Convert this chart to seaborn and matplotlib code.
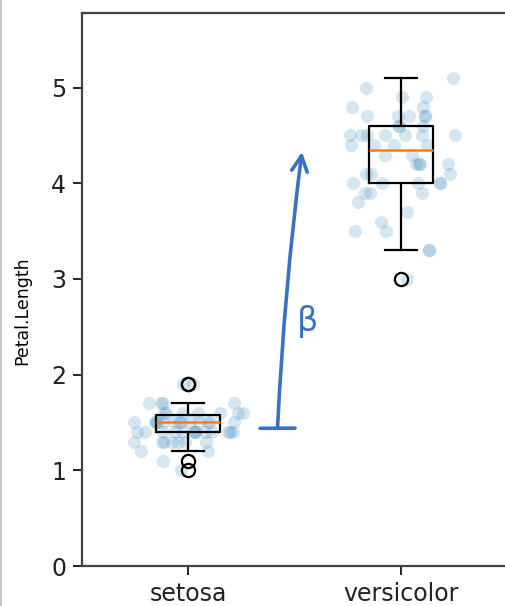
import numpy as np
import pandas as pd
import matplotlib.pyplot as plt
import seaborn as sns
from matplotlib.lines import Line2D

# iris petal lengths, first two species
species = ["setosa", "versicolor"]
setosa_petal = [1.4, 1.4, 1.3, 1.5, 1.4, 1.7, 1.4, 1.5, 1.4, 1.5,
                1.5, 1.6, 1.4, 1.1, 1.2, 1.5, 1.3, 1.4, 1.7, 1.5,
                1.7, 1.5, 1.0, 1.7, 1.9, 1.6, 1.6, 1.5, 1.4, 1.6,
                1.6, 1.5, 1.5, 1.4, 1.5, 1.2, 1.3, 1.4, 1.3, 1.5,
                1.3, 1.3, 1.3, 1.6, 1.9, 1.4, 1.6, 1.4, 1.5, 1.4]
versicolor_petal = [4.7, 4.5, 4.9, 4.0, 4.6, 4.5, 4.7, 3.3, 4.6, 3.9,
                    3.5, 4.2, 4.0, 4.7, 3.6, 4.4, 4.5, 4.1, 4.5, 3.9,
                    4.8, 4.0, 4.9, 4.7, 4.3, 4.4, 4.8, 5.0, 4.5, 3.5,
                    3.8, 3.7, 3.9, 5.1, 4.5, 4.5, 4.7, 4.4, 4.1, 4.0,
                    4.4, 4.6, 4.0, 3.3, 4.2, 4.2, 4.2, 4.3, 3.0, 4.1]
y_ticks = [0, 1, 2, 3, 4, 5]

df = pd.DataFrame({
    "Species": [species[0]] * len(setosa_petal) + [species[1]] * len(versicolor_petal),
    "Petal.Length": setosa_petal + versicolor_petal,
})

np.random.seed(3)
fig = plt.figure(figsize=(5.05, 6.06), dpi=100)
ax = fig.add_axes([0.1624, 0.066, 0.8416, 0.9125])

sns.stripplot(data=df, x="Species", y="Petal.Length", order=species,
              color="#1f77b4", alpha=0.18, size=9.5, jitter=0.27,
              linewidth=0, ax=ax, zorder=1)
sns.boxplot(data=df, x="Species", y="Petal.Length", order=species,
            width=0.3, fill=False, color="black", linewidth=1.6,
            medianprops=dict(color="#ff7f0e", linewidth=1.8),
            flierprops=dict(marker="o", markersize=9.5, markerfacecolor="none",
                            markeredgecolor="black", markeredgewidth=1.6),
            ax=ax, zorder=3)

# hand-drawn style annotation
blue = "#3a72bf"
ax.annotate("", xy=(0.535, 4.33), xytext=(0.42, 1.44),
            arrowprops=dict(arrowstyle="]->, widthA=0.45, lengthA=0, angleA=3",
                            color=blue, lw=2.6, mutation_scale=28,
                            shrinkA=0, shrinkB=0,
                            connectionstyle="arc3,rad=-0.02"))
ax.text(0.56, 2.56, "β", color=blue, fontsize=24, ha="center", va="center")

ax.set_xlim(-0.5, 1.5)
ax.set_ylim(0, 5.78)
ax.set_yticks(y_ticks)
ax.set_xlabel("")
ax.set_ylabel("Petal.Length", fontsize=12.5)
ax.yaxis.set_label_coords(-0.12, 0.462)
ax.tick_params(labelsize=17, width=1.4, length=6.5, pad=5, colors="#222222")
for s in ax.spines.values():
    s.set_linewidth(1.6)
    s.set_color("#444444")

fig.add_artist(Line2D([0.001, 0.001], [0, 1], color="#bbbbbb", lw=1.2,
                      transform=fig.transFigure))

fig.savefig("out.png", dpi=100)
